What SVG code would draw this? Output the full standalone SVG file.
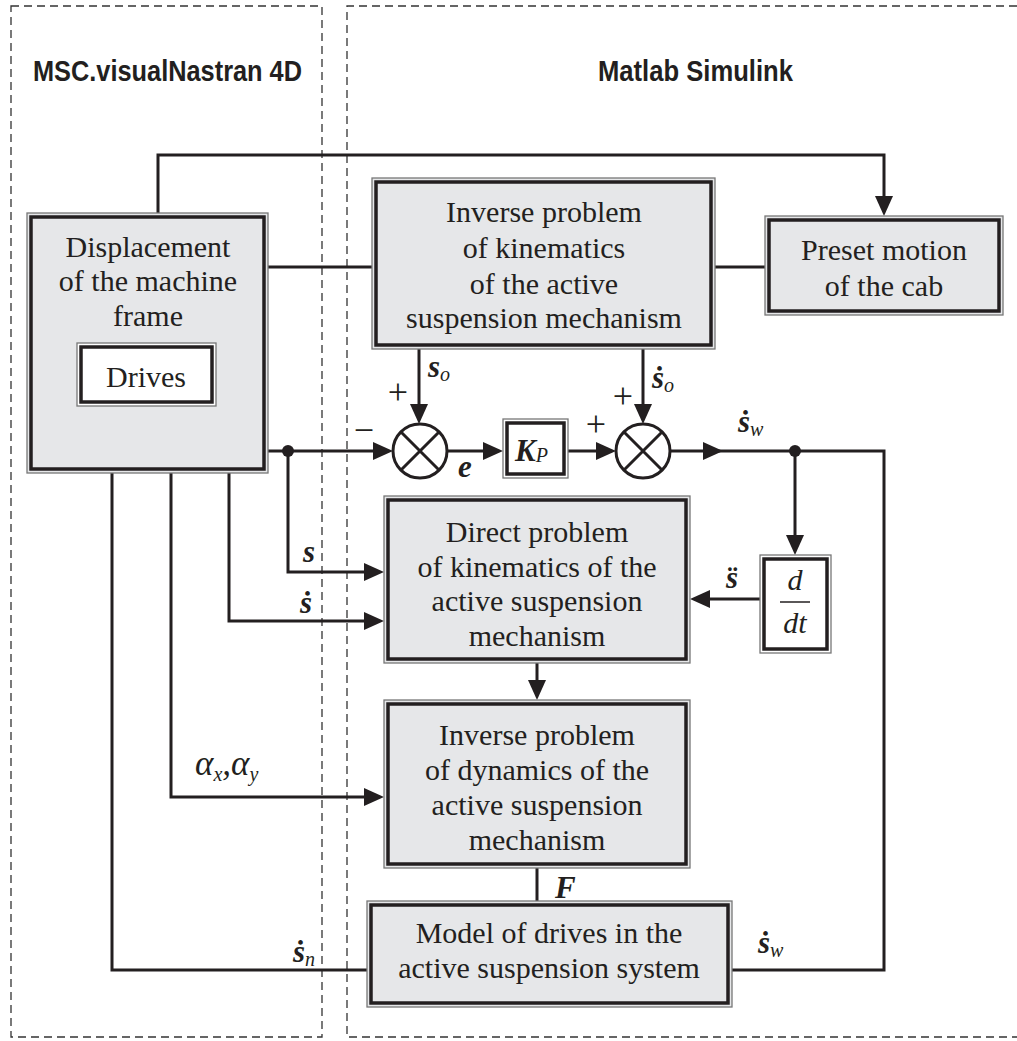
<svg xmlns="http://www.w3.org/2000/svg" width="1017" height="1041" viewBox="0 0 1017 1041">
<style>
.panel{fill:none;stroke:#333;stroke-width:1.3;stroke-dasharray:8 5}
.title{font-family:"Liberation Sans",Arial,sans-serif;font-weight:bold;font-size:29px;fill:#231f20}
.bo{fill:#e6e7e9;stroke:#777;stroke-width:1.3}
.bw{fill:#fff;stroke:#777;stroke-width:1.3}
.bi{fill:none;stroke:#231f20;stroke-width:3.5}
.t{font-family:"Liberation Serif","Times New Roman",serif;font-size:30px;fill:#231f20;text-anchor:middle}
.w{fill:none;stroke:#231f20;stroke-width:3}
.a{marker-end:url(#ah)}
.m{font-family:"Liberation Serif","Times New Roman",serif;font-size:31px;fill:#231f20;font-style:italic;font-weight:bold}
.sub{font-family:"Liberation Serif","Times New Roman",serif;font-size:20px;font-style:italic;font-weight:normal}
.it{font-family:"Liberation Serif","Times New Roman",serif;font-size:30px;fill:#231f20;font-style:italic}
.al{font-family:"Liberation Serif","Times New Roman",serif;font-size:35px;fill:#231f20;font-style:italic}
.sg{font-family:"Liberation Serif","Times New Roman",serif;font-size:36px;fill:#231f20;text-anchor:middle}
</style>
<defs>
<marker id="ah" markerUnits="userSpaceOnUse" markerWidth="20" markerHeight="18" refX="14" refY="9" orient="auto">
<path d="M0,0 L20,9 L0,18 z" fill="#231f20"/>
</marker>
</defs>

<g id="panels">
<rect class="panel" x="11" y="6" width="311" height="1031"/>
<path class="panel" d="M1017,6 H347 V1037 H1017"/>
<text class="title" x="33" y="81" textLength="269" lengthAdjust="spacingAndGlyphs">MSC.visualNastran 4D</text>
<text class="title" x="598" y="81" textLength="195" lengthAdjust="spacingAndGlyphs">Matlab Simulink</text>
</g>

<g id="connectors">
<path class="w a" d="M158,213 V155 H884 V210"/>
<path class="w a" d="M367,970 H112 V412"/>
<path class="w a" d="M268,451 H387"/>
<path class="w a" d="M419,349 V418"/>
<path class="w a" d="M643,349 V418"/>
<path class="w a" d="M447,451 H497"/>
<path class="w a" d="M568,451 H610"/>
<path class="w a" d="M670,451 H717"/>
<path class="w" d="M715,451 H884 V970 H732"/>
<path class="w a" d="M795,451 V549"/>
<path class="w a" d="M760,599 H696"/>
<path class="w a" d="M288,451 V572 H378"/>
<path class="w a" d="M229,473 V621 H378"/>
<path class="w a" d="M171,473 V797 H378"/>
<path class="w a" d="M537,663 V694"/>
<path class="w" d="M537,868 V901"/>
<path class="w" d="M268,267 H372"/>
<path class="w" d="M715,267 H765"/>
<circle cx="288" cy="451" r="6" fill="#231f20"/>
<circle cx="795" cy="451" r="6" fill="#231f20"/>
</g>

<g id="disp">
<rect class="bo" x="27" y="213" width="241" height="260"/>
<rect class="bi" x="31" y="217" width="233" height="252"/>
<text class="t" x="148" y="257">Displacement</text>
<text class="t" x="148" y="291">of the machine</text>
<text class="t" x="148" y="326">frame</text>
</g>
<g id="drives">
<rect class="bw" x="77" y="343" width="139" height="63"/>
<rect class="bi" x="81" y="347" width="131" height="55"/>
<text class="t" x="146" y="387">Drives</text>
</g>

<g id="invkin">
<rect class="bo" x="372" y="178" width="343" height="171"/>
<rect class="bi" x="376" y="182" width="335" height="163"/>
<text class="t" x="544" y="222">Inverse problem</text>
<text class="t" x="544" y="258">of kinematics</text>
<text class="t" x="544" y="294">of the active</text>
<text class="t" x="544" y="328">suspension mechanism</text>
</g>

<g id="preset">
<rect class="bo" x="765" y="216" width="238" height="99"/>
<rect class="bi" x="769" y="220" width="230" height="91"/>
<text class="t" x="884" y="260">Preset motion</text>
<text class="t" x="884" y="296">of the cab</text>
</g>

<g id="sum1">
<circle cx="420" cy="451" r="27" fill="#fff" stroke="#231f20" stroke-width="3"/>
<path class="w" d="M401,432 L439,470 M439,432 L401,470"/>
</g>
<g id="sum2">
<circle cx="643" cy="451" r="27" fill="#fff" stroke="#231f20" stroke-width="3"/>
<path class="w" d="M624,432 L662,470 M662,432 L624,470"/>
</g>

<g id="kp">
<rect class="bw" x="503" y="419" width="65" height="59"/>
<rect class="bi" x="507" y="423" width="57" height="51"/>
<text class="m" x="515" y="461">K<tspan class="sub" dy="1">P</tspan></text>
</g>

<g id="ddt">
<rect class="bw" x="760" y="555" width="71" height="98"/>
<rect class="bi" x="764" y="559" width="63" height="90"/>
<text class="it" x="795" y="590" text-anchor="middle">d</text>
<line x1="780" y1="602" x2="810" y2="602" stroke="#231f20" stroke-width="1.5"/>
<text class="it" x="795" y="633" text-anchor="middle">dt</text>
</g>

<g id="direct">
<rect class="bo" x="384" y="496" width="306" height="167"/>
<rect class="bi" x="388" y="500" width="298" height="159"/>
<text class="t" x="537" y="542">Direct problem</text>
<text class="t" x="537" y="577">of kinematics of the</text>
<text class="t" x="537" y="611">active suspension</text>
<text class="t" x="537" y="646">mechanism</text>
</g>

<g id="invdyn">
<rect class="bo" x="384" y="700" width="306" height="168"/>
<rect class="bi" x="388" y="704" width="298" height="160"/>
<text class="t" x="537" y="745">Inverse problem</text>
<text class="t" x="537" y="780">of dynamics of the</text>
<text class="t" x="537" y="815">active suspension</text>
<text class="t" x="537" y="850">mechanism</text>
</g>

<g id="model">
<rect class="bo" x="367" y="901" width="365" height="106"/>
<rect class="bi" x="371" y="905" width="357" height="98"/>
<text class="t" x="549" y="943">Model of drives in the</text>
<text class="t" x="549" y="978">active suspension system</text>
</g>

<g id="labels">
<text class="sg" x="364" y="442">−</text>
<text class="sg" x="398" y="404">+</text>
<text class="sg" x="596" y="436">+</text>
<text class="sg" x="623" y="408">+</text>
<text class="m" x="428" y="377">s<tspan class="sub" dy="4">o</tspan></text>
<text class="m" x="652" y="388">ṡ<tspan class="sub" dy="4">o</tspan></text>
<text class="m" x="458" y="477">e</text>
<text class="m" x="738" y="432">ṡ<tspan class="sub" dy="4">w</tspan></text>
<text class="m" x="726" y="588">s̈</text>
<text class="m" x="303" y="562">s</text>
<text class="m" x="300" y="613">ṡ</text>
<text class="al" x="195" y="775">α<tspan class="sub" dy="6">x</tspan><tspan dy="-6">,α</tspan><tspan class="sub" dy="6">y</tspan></text>
<text class="m" x="555" y="898">F</text>
<text class="m" x="293" y="962">ṡ<tspan class="sub" dy="4">n</tspan></text>
<text class="m" x="758" y="953">ṡ<tspan class="sub" dy="4">w</tspan></text>
</g>
</svg>
